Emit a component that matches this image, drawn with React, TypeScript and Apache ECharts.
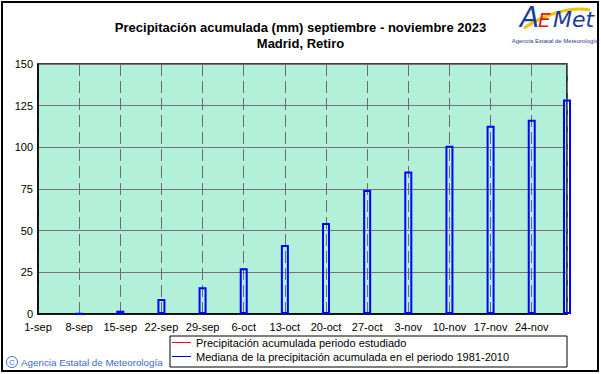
import React, { useEffect, useRef } from "react";
import * as echarts from "echarts";

// Week tick labels (every 7 days starting 1-sep)
const tickLabels = [
  "1-sep", "8-sep", "15-sep", "22-sep", "29-sep", "6-oct", "13-oct",
  "20-oct", "27-oct", "3-nov", "10-nov", "17-nov", "24-nov",
];
// Day offsets from 1-sep for each bar
const barDays = [7, 14, 21, 28, 35, 42, 49, 56, 63, 70, 77, 84, 90];
// Median accumulated precipitation 1981-2010 (mm)
const medianValues = [0.4, 2, 9, 16, 27.4, 41.4, 54.6, 74.4, 85.5, 101, 113, 116.6, 128.7];
// Accumulated precipitation of studied period (no data drawn)
const studiedValues: number[][] = [];

const nameStudied = "Precipitación acumulada periodo estudiado";
const nameMedian = "Mediana de la precipitación acumulada en el periodo 1981-2010";

const FONT = "'Liberation Sans', Arial, sans-serif";

export default function App() {
  const ref = useRef<HTMLDivElement>(null);
  useEffect(() => {
    if (!ref.current) return;
    const chart = echarts.init(ref.current, null, { renderer: "svg" });
    chart.setOption({
      animation: false,
      backgroundColor: "#ffffff",
      textStyle: { fontFamily: FONT },
      title: {
        text: "Precipitación acumulada (mm) septiembre - noviembre 2023\nMadrid, Retiro",
        left: "center",
        top: 14,
        textStyle: { fontSize: 13, fontWeight: "bold", color: "#000", lineHeight: 16, fontFamily: FONT },
      },
      grid: {
        left: 38,
        right: 34,
        top: 64,
        bottom: 60,
        show: true,
        backgroundColor: "#b2f0da",
        borderColor: "#000",
        borderWidth: 1.5,
      },
      xAxis: {
        type: "value",
        min: 0,
        max: 90,
        interval: 7,
        axisLine: { show: true, lineStyle: { color: "#000", width: 1.5 } },
        axisTick: { show: false },
        axisLabel: {
          color: "#000",
          fontSize: 11,
          margin: 7,
          showMaxLabel: false,
          formatter: (v: number) => {
            const i = Math.round(v / 7);
            return v % 7 === 0 && tickLabels[i] ? tickLabels[i] : "";
          },
        },
        splitLine: { show: true, lineStyle: { color: "#6e6a6e", width: 1, type: [12, 5] } },
      },
      yAxis: {
        type: "value",
        min: 0,
        max: 150,
        interval: 25,
        axisLine: { show: true, lineStyle: { color: "#000", width: 1.5 } },
        axisTick: { show: false },
        axisLabel: { color: "#000", fontSize: 11, margin: 5 },
        splitLine: { show: true, lineStyle: { color: "#7a6f78", width: 1 } },
      },
      legend: {
        orient: "vertical",
        left: 172,
        top: 337,
        padding: 0,
        itemGap: 3,
        itemWidth: 19,
        itemHeight: 1,
        icon: "rect",
        textStyle: { fontSize: 11, color: "#000", fontFamily: FONT },
        itemStyle: { borderWidth: 0 },
        data: [
          { name: nameStudied, itemStyle: { color: "#ff0000", borderWidth: 0 } },
          { name: nameMedian, itemStyle: { color: "#0000cc", borderWidth: 0 } },
        ],
      },
      series: [
        {
          name: nameStudied,
          type: "line",
          data: studiedValues,
          color: "#ff0000",
          symbol: "none",
        },
        {
          name: nameMedian,
          type: "bar",
          data: barDays.map((d, i) => [d, medianValues[i]]),
          barWidth: 8,
          clip: false,
          itemStyle: { color: "rgba(0,0,0,0)", borderColor: "#0000ff", borderWidth: 2 },
          z: 5,
        },
      ],
      graphic: [
        {
          type: "rect",
          shape: { x: 2, y: 2, width: 596, height: 369 },
          style: { fill: "none", stroke: "#000", lineWidth: 2 },
          silent: true,
        },
        {
          type: "rect",
          shape: { x: 170, y: 336, width: 397, height: 31 },
          style: { fill: "none", stroke: "#000", lineWidth: 1 },
          silent: true,
        },
        {
          type: "circle",
          shape: { cx: 12, cy: 362, r: 5.5 },
          style: { fill: "none", stroke: "#3a6ad0", lineWidth: 1 },
          silent: true,
        },
        {
          type: "text",
          x: 12,
          y: 362,
          style: { text: "C", fontSize: 8, fill: "#3a6ad0", align: "center", verticalAlign: "middle", fontFamily: FONT },
          silent: true,
        },
        {
          type: "text",
          x: 21,
          y: 362,
          style: { text: "Agencia Estatal de Meteorología", fontSize: 9.8, fill: "#3a6ad0", verticalAlign: "middle", fontFamily: FONT },
          silent: true,
        },
        // Logo
        {
          type: "bezierCurve",
          shape: { x1: 524, y1: 28, x2: 590, y2: 10, cpx1: 545, cpy1: 14, cpx2: 572, cpy2: 6 },
          style: { stroke: "#f2c400", lineWidth: 3, fill: "none" },
          silent: true,
        },
        {
          type: "text",
          x: 520,
          y: 3,
          style: { text: "A", fontSize: 28, fontStyle: "italic", fill: "#1a3a9e", fontFamily: "'DejaVu Sans', sans-serif" },
          silent: true,
        },
        {
          type: "text",
          x: 538,
          y: 10,
          style: { text: "E", fontSize: 20, fontStyle: "italic", fill: "#d42020", fontFamily: "'DejaVu Sans', sans-serif" },
          silent: true,
        },
        {
          type: "text",
          x: 553,
          y: 8,
          style: { text: "Met", fontSize: 22, fontStyle: "italic", fill: "#1a3a9e", fontFamily: "'DejaVu Sans', sans-serif" },
          silent: true,
        },
        {
          type: "text",
          x: 555,
          y: 41,
          style: { text: "Agencia Estatal de Meteorología", fontSize: 6, fill: "#2a3a8e", align: "center", verticalAlign: "middle", fontFamily: FONT },
          silent: true,
        },
      ],
    });
    return () => chart.dispose();
  }, []);
  return (
    <div
      ref={ref}
      style={{ position: "absolute", left: 0, top: 0, width: 601, height: 374, background: "#fff" }}
    />
  );
}
